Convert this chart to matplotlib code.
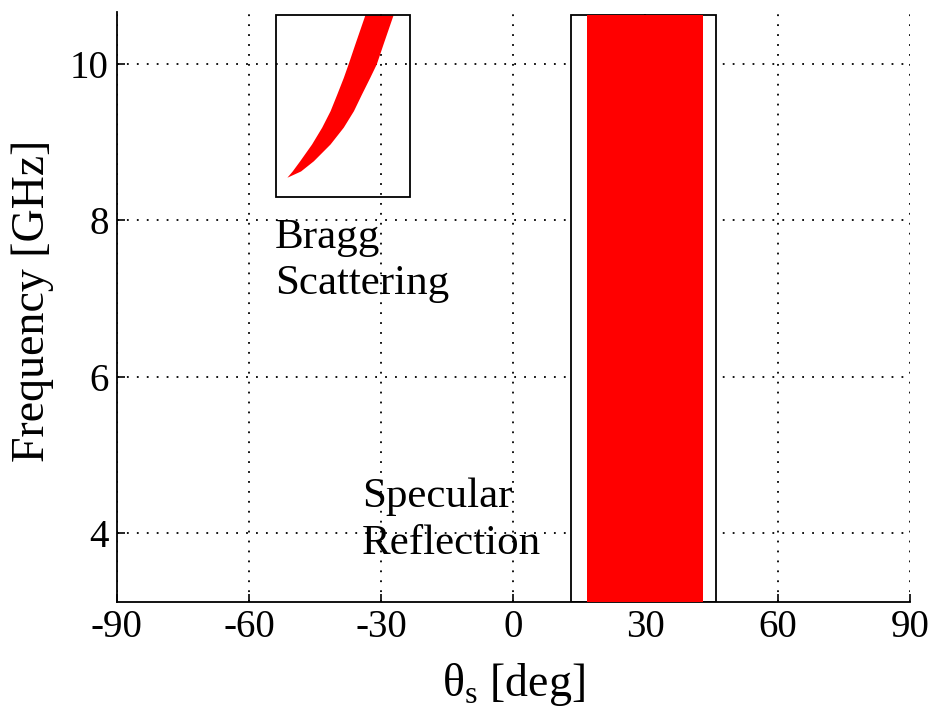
import matplotlib
matplotlib.use('Agg')
import matplotlib.pyplot as plt
from matplotlib.patches import Rectangle

plt.rcParams['font.family'] = ['Liberation Serif', 'DejaVu Serif']
plt.rcParams['mathtext.fontset'] = 'custom'
plt.rcParams['mathtext.rm'] = 'Liberation Serif'

# 读图得到的数据
x_ticks = [-90, -60, -30, 0, 30, 60, 90]
y_ticks = [4, 6, 8, 10]
y_lim = (3.12, 10.66)

# Bragg 散射区域的两条边界 (频率 GHz, 角度 deg)
bragg_f = [8.55, 8.63, 8.76, 8.975, 9.19, 9.40, 9.61, 9.825, 10.0, 10.25, 10.626]
bragg_left = [-51.4, -50.2, -48.5, -45.8, -43.5, -41.6, -40.1, -38.6, -37.5, -36.0, -33.7]
bragg_right = [-51.4, -48.3, -45.4, -41.6, -38.6, -36.3, -34.5, -32.6, -31.1, -29.6, -27.3]
bragg_box_x = (-53.9, -23.4)
bragg_box_y = (8.30, 10.63)

# 镜面反射区域
spec_red = (16.8, 43.0)
spec_box_x = (13.2, 46.1)

fig = plt.figure(figsize=(9.35, 7.15), dpi=100)
ax = fig.add_axes([0.125, 0.158, 0.848, 0.825])

ax.set_xlim(-90, 90)
ax.set_ylim(*y_lim)
ax.set_xticks(x_ticks)
ax.set_yticks(y_ticks)
ax.set_xticklabels([str(v) for v in x_ticks])
ax.set_yticklabels([str(v) for v in y_ticks])
ax.tick_params(direction='in', length=6, width=1.2, labelsize=28, pad=6)
ax.tick_params(axis='x', pad=5)
ax.spines['top'].set_visible(False)
ax.spines['right'].set_visible(False)
for s in ['left', 'bottom']:
    ax.spines[s].set_linewidth(1.3)
ax.set_axisbelow(True)
ax.grid(True, color='k', linestyle=(0, (1, 4.5)), linewidth=1.3)

# 镜面反射框 (白底盖住网格)
ax.add_patch(Rectangle((spec_box_x[0], y_lim[0]), spec_box_x[1] - spec_box_x[0],
                       bragg_box_y[1] - y_lim[0], facecolor='white',
                       edgecolor='k', linewidth=1.3, zorder=2))
ax.fill_betweenx([y_lim[0], bragg_box_y[1]], spec_red[0], spec_red[1],
                 color='#ff0000', linewidth=0, zorder=3)

# Bragg 框
ax.add_patch(Rectangle((bragg_box_x[0], bragg_box_y[0]), bragg_box_x[1] - bragg_box_x[0],
                       bragg_box_y[1] - bragg_box_y[0], facecolor='none',
                       edgecolor='k', linewidth=1.3, zorder=4))
ax.fill_betweenx(bragg_f, bragg_left, bragg_right, color='#ff0000',
                 linewidth=0, zorder=3)

ax.text(-54.1, 7.65, 'Bragg', fontsize=31, va='baseline', ha='left')
ax.text(-54.1, 7.06, 'Scattering', fontsize=31, va='baseline', ha='left')
ax.text(-34.3, 4.33, 'Specular', fontsize=31, va='baseline', ha='left')
ax.text(-34.3, 3.74, 'Reflection', fontsize=31, va='baseline', ha='left')

ax.set_xlabel('θ$_\\mathrm{s}$ [deg]', fontsize=33, labelpad=11)
ax.set_ylabel('Frequency [GHz]', fontsize=33)
ax.yaxis.set_label_coords(-0.079, 0.51)

fig.savefig('out.png', dpi=100)
